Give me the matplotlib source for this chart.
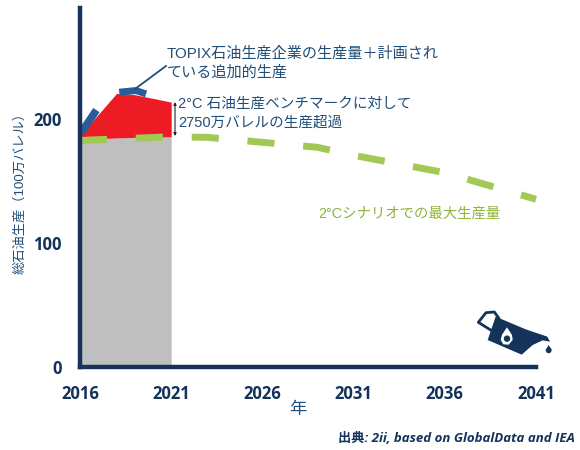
import matplotlib
matplotlib.use('Agg')
import matplotlib.pyplot as plt
from matplotlib.patches import Polygon, Circle
from matplotlib.transforms import Affine2D

# data
years_total = [2016, 2018, 2019, 2021]
supply_top = [184, 185, 185.5, 186]
red_top = [187, 221, 220, 214]
blue_a_x = [2016.05, 2016.9]
blue_a_y = [189, 207.5]
blue_b_x = [2018.15, 2019.07, 2019.62]
blue_b_y = [222, 223.3, 220.6]
green_years = [2016, 2021, 2023, 2026, 2029, 2031, 2036, 2041]
green_values = [183, 186, 185.5, 181.5, 177.5, 171, 157, 135.5]
x_ticks = [2016, 2021, 2026, 2031, 2036, 2041]
y_ticks = [0, 100, 200]

NAVY = '#14325a'
BLUE = '#1f4e79'
FONT_JP = ['Liberation Sans', 'Noto Sans CJK JP', 'DejaVu Sans']
FONT_BOLD = ['Open Sans', 'Noto Sans CJK JP', 'DejaVu Sans']

W, H = 580, 450
fig = plt.figure(figsize=(W / 100, H / 100), dpi=100)
ax = fig.add_axes([80 / W, 1 - 367 / H, (536 - 80) / W, (367 - 8) / H])
ax.set_xlim(2016, 2041)
ax.set_ylim(0, 290)
ax.patch.set_alpha(0)

# areas
ax.fill_between(years_total, 0, supply_top, color='#bfbfbf', lw=0, zorder=1)
ax.fill_between(years_total, supply_top, red_top, color='#ed1c24', lw=0, zorder=2)

# lines
ax.plot(green_years, green_values, color='#a2c955', lw=5, dashes=(3.9, 4.15),
        zorder=3, clip_on=False, dash_capstyle='butt')
ax.plot(blue_a_x, blue_a_y, color='#2a5b9b', lw=5.5, zorder=4, solid_capstyle='butt', clip_on=False)
ax.plot(blue_b_x, blue_b_y, color='#2a5b9b', lw=5, zorder=4, solid_capstyle='butt')

# axes
for s in ['top', 'right']:
    ax.spines[s].set_visible(False)
for s in ['left', 'bottom']:
    ax.spines[s].set_color(NAVY)
    ax.spines[s].set_linewidth(3.2)
    ax.spines[s].set_zorder(6)
ax.set_xticks(x_ticks)
ax.set_yticks(y_ticks)
ax.tick_params(length=0, labelcolor=NAVY, labelsize=12, pad=13)
for lab in ax.get_xticklabels() + ax.get_yticklabels():
    lab.set_fontweight('bold')
    lab.set_fontfamily(FONT_BOLD)

# pixel coordinates, y going down, for the notes and the icon
px = Affine2D().scale(1 / W, -1 / H).translate(0, 1) + fig.transFigure


def note(x, y, s, **kw):
    kw.setdefault('color', BLUE)
    kw.setdefault('family', FONT_JP)
    kw.setdefault('fontsize', 10.5)
    kw.setdefault('va', 'center')
    fig.text(x, y, s, transform=px, **kw)


note(167, 54, 'TOPIX石油生産企業の生産量＋計画され', fontsize=10.9)
note(167, 73, 'ている追加的生産', fontsize=10.9)
note(178, 104, '2°C 石油生産ベンチマークに対して')
note(178, 123, '2750万バレルの生産超過')
note(318, 214, '2°Cシナリオでの最大生産量', color='#8fb33c', fontsize=10.4)
note(298, 409, '年', fontsize=12.5, ha='center')
note(20, 190, '総石油生産（100万バレル）', rotation=90, ha='center', fontsize=9.5)
note(575, 439, '出典: 2ii, based on GlobalData and IEA', ha='right', fontsize=9.5,
     color=NAVY, fontweight='bold', style='italic', family=FONT_BOLD)

# leader from the note to the blue dashes
fig.add_artist(plt.Line2D([135, 166], [89, 66], transform=px, color=BLUE, lw=1.3))
# double arrow for the overshoot
ax.annotate('', xy=(175, 136), xytext=(175, 102), xycoords=px, textcoords=px,
            arrowprops=dict(arrowstyle='<|-|>', color='#222222', lw=0.8,
                            mutation_scale=4, shrinkA=0, shrinkB=0))


# oil can icon
def can(points):
    return [(460 + a / 3, 290 + b / 3) for a, b in points]


body = [(107, 80), (197, 118), (262, 140), (270, 155), (248, 151), (218, 165),
        (185, 194), (83, 150)]
handle = [(92, 120), (55, 97), (78, 68), (103, 66), (116, 84)]
fig.add_artist(Polygon(can(body), closed=True, color=NAVY, transform=px, lw=0))
fig.add_artist(plt.Line2D(*zip(*can(handle)), transform=px, color=NAVY, lw=2))
drop = [(141, 112), (156, 135), (158, 150), (146, 164), (130, 163), (122, 150), (126, 134)]
fig.add_artist(Polygon(can(drop), closed=True, color='white', transform=px, lw=0))
fig.add_artist(Circle((460 + 141 / 3, 290 + 146 / 3), 3.2, color=NAVY, transform=px, lw=0))
fig.add_artist(Polygon(can([(266, 165), (275, 180), (258, 180)]), closed=True,
                       color=NAVY, transform=px, lw=0))
fig.add_artist(Circle((460 + 266 / 3, 290 + 181 / 3), 2.9, color=NAVY, transform=px, lw=0))

fig.savefig('out.png', dpi=100)
